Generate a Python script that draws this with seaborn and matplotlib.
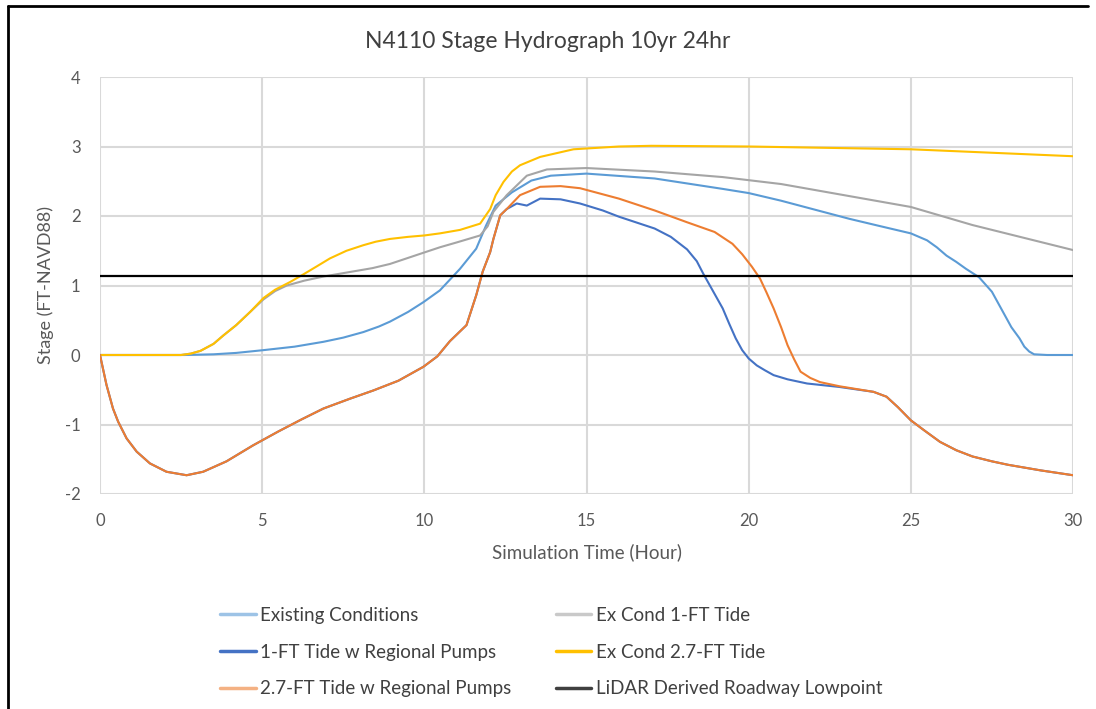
import numpy as np
import pandas as pd
import matplotlib
matplotlib.use("Agg")
import matplotlib.pyplot as plt
import seaborn as sns
from matplotlib.lines import Line2D

# ---- data ----
title = "N4110 Stage Hydrograph 10yr 24hr"
xlabel = "Simulation Time (Hour)"
ylabel = "Stage (FT-NAVD88)"

ec_t = [0, 2.6, 3.5, 4.2, 5.04, 6.0, 6.89, 7.5, 8.12, 8.6, 8.94, 9.5, 9.97, 10.48, 11.1, 11.6, 11.9, 12.2, 12.7, 13.3, 13.9, 15, 17.1, 19.2, 20, 21, 23.1, 24, 25, 25.5, 25.8, 26.1, 26.4, 26.7, 27.1, 27.5, 27.9, 28.1, 28.35, 28.5, 28.65, 28.8, 29.2, 30]
ec_v = [0, 0, 0.01, 0.03, 0.07, 0.12, 0.19, 0.25, 0.33, 0.41, 0.48, 0.62, 0.76, 0.93, 1.24, 1.53, 1.86, 2.15, 2.34, 2.51, 2.58, 2.61, 2.54, 2.39, 2.33, 2.22, 1.96, 1.86, 1.75, 1.65, 1.55, 1.43, 1.34, 1.24, 1.12, 0.91, 0.57, 0.4, 0.24, 0.12, 0.05, 0.01, 0, 0]

ex1_t = [0, 2.5, 2.8, 3.1, 3.5, 3.8, 4.2, 4.63, 5.04, 5.4, 5.76, 6.3, 6.9, 7.4, 8.4, 8.94, 9.9, 10.48, 11.0, 11.72, 11.95, 12.13, 12.54, 13.16, 13.78, 15, 17.1, 19.2, 21, 25, 26.9, 30]
ex1_v = [0, 0, 0.02, 0.06, 0.16, 0.28, 0.43, 0.62, 0.8, 0.92, 1.0, 1.07, 1.13, 1.17, 1.25, 1.31, 1.46, 1.55, 1.62, 1.72, 1.85, 2.06, 2.3, 2.58, 2.67, 2.69, 2.64, 2.56, 2.46, 2.13, 1.87, 1.51]

ex27_t = [0, 2.5, 2.8, 3.1, 3.5, 3.8, 4.2, 4.63, 5.04, 5.4, 5.86, 6.27, 6.7, 7.09, 7.6, 8.12, 8.5, 8.94, 9.5, 10.0, 10.48, 11.1, 11.72, 12.03, 12.2, 12.44, 12.7, 12.95, 13.57, 14.6, 16, 17, 20, 25, 30]
ex27_v = [0, 0, 0.02, 0.06, 0.16, 0.28, 0.43, 0.62, 0.82, 0.94, 1.05, 1.16, 1.28, 1.39, 1.5, 1.58, 1.63, 1.67, 1.7, 1.72, 1.75, 1.8, 1.89, 2.1, 2.3, 2.49, 2.64, 2.73, 2.85, 2.96, 3.0, 3.01, 3.0, 2.96, 2.86]

p1_t = [0, 0.2, 0.4, 0.56, 0.82, 1.13, 1.54, 2.05, 2.67, 3.18, 3.9, 4.72, 5.5, 6.2, 6.89, 7.7, 8.43, 9.2, 9.97, 10.4, 10.79, 11.3, 11.6, 11.8, 12.03, 12.13, 12.34, 12.54, 12.85, 13.16, 13.57, 14.2, 14.8, 15.5, 16, 17.1, 17.6, 18.1, 18.4, 18.6, 18.9, 19.2, 19.4, 19.6, 19.8, 20, 20.25, 20.5, 20.77, 21.2, 21.8, 22.8, 23.85, 24.25, 24.6, 25, 25.4, 25.9, 26.4, 26.9, 27.5, 28, 29, 30]
p1_v = [0, -0.43, -0.77, -0.96, -1.2, -1.39, -1.56, -1.68, -1.73, -1.68, -1.53, -1.3, -1.1, -0.93, -0.77, -0.63, -0.51, -0.37, -0.17, -0.02, 0.2, 0.43, 0.86, 1.2, 1.48, 1.67, 2.01, 2.1, 2.18, 2.15, 2.25, 2.24, 2.18, 2.08, 1.99, 1.82, 1.7, 1.52, 1.35, 1.17, 0.92, 0.67, 0.45, 0.24, 0.07, -0.05, -0.15, -0.22, -0.29, -0.35, -0.41, -0.46, -0.53, -0.6, -0.75, -0.94, -1.08, -1.25, -1.37, -1.46, -1.53, -1.58, -1.66, -1.73]

p27_t = [0, 0.2, 0.4, 0.56, 0.82, 1.13, 1.54, 2.05, 2.67, 3.18, 3.9, 4.72, 5.5, 6.2, 6.89, 7.7, 8.43, 9.2, 9.97, 10.4, 10.79, 11.3, 11.6, 11.8, 12.03, 12.13, 12.34, 12.54, 12.95, 13.57, 14.2, 14.8, 16, 17.1, 18.1, 18.95, 19.5, 19.8, 20.1, 20.35, 20.55, 20.77, 21.0, 21.2, 21.4, 21.6, 21.9, 22.2, 22.8, 23.85, 24.25, 24.6, 25, 25.4, 25.9, 26.4, 26.9, 27.5, 28, 29, 30]
p27_v = [0, -0.43, -0.77, -0.96, -1.2, -1.39, -1.56, -1.68, -1.73, -1.68, -1.53, -1.3, -1.1, -0.93, -0.77, -0.63, -0.51, -0.37, -0.17, -0.02, 0.2, 0.43, 0.86, 1.2, 1.48, 1.67, 2.01, 2.1, 2.3, 2.42, 2.43, 2.4, 2.25, 2.08, 1.91, 1.77, 1.6, 1.45, 1.27, 1.1, 0.9, 0.67, 0.4, 0.14, -0.06, -0.24, -0.33, -0.39, -0.45, -0.53, -0.6, -0.75, -0.94, -1.08, -1.25, -1.37, -1.46, -1.53, -1.58, -1.66, -1.73]

lidar_t = [0, 30]
lidar_v = [1.14, 1.14]

series_names = ["Existing Conditions", "Ex Cond 1-FT Tide", "1-FT Tide w Regional Pumps",
                "Ex Cond 2.7-FT Tide", "2.7-FT Tide w Regional Pumps", "LiDAR Derived Roadway Lowpoint"]
series_data = [(ec_t, ec_v), (ex1_t, ex1_v), (p1_t, p1_v), (ex27_t, ex27_v), (p27_t, p27_v), (lidar_t, lidar_v)]
colors = ["#5B9BD5", "#A5A5A5", "#4472C4", "#FFC000", "#ED7D31", "#000000"]

frames = []
for name, (t, v) in zip(series_names, series_data):
    frames.append(pd.DataFrame({"t": t, "v": v, "series": name}))
df = pd.concat(frames, ignore_index=True)

# ---- plot ----
sns.set_style("whitegrid")
plt.rcParams["font.family"] = ["Lato", "DejaVu Sans"]
plt.rcParams["axes.unicode_minus"] = False

fig = plt.figure(figsize=(10.96, 7.09), dpi=100)
ax = fig.add_axes([100/1096, 1-494/709, (1073-100)/1096, (494-77)/709])

draw_order = ["Existing Conditions", "Ex Cond 1-FT Tide", "Ex Cond 2.7-FT Tide",
              "1-FT Tide w Regional Pumps", "2.7-FT Tide w Regional Pumps", "LiDAR Derived Roadway Lowpoint"]
pal = dict(zip(series_names, colors))
for name in draw_order:
    sub = df[df["series"] == name]
    sns.lineplot(data=sub, x="t", y="v", color=pal[name], lw=1.5 if name != "LiDAR Derived Roadway Lowpoint" else 1.6,
                 ax=ax, legend=False, sort=False, estimator=None)

ax.set_xlim(0, 30)
ax.set_ylim(-2, 4)
ax.set_xticks(range(0, 31, 5))
ax.set_yticks(range(-2, 5, 1))
ax.grid(True, color="#D9D9D9", lw=1.5)
for s in ax.spines.values():
    s.set_visible(False)
ax.tick_params(axis="both", length=0, labelsize=12, colors="#595959")
ax.tick_params(axis="x", pad=14)
ax.tick_params(axis="y", pad=14)
ax.set_xlabel(xlabel, fontsize=13.5, color="#595959", labelpad=10)
ax.set_ylabel(ylabel, fontsize=13, color="#595959", labelpad=8)
fig.text(0.5, 1-42/709, title, ha="center", va="center", fontsize=16.5, color="#404040")

order = ["Existing Conditions", "1-FT Tide w Regional Pumps", "2.7-FT Tide w Regional Pumps",
         "Ex Cond 1-FT Tide", "Ex Cond 2.7-FT Tide", "LiDAR Derived Roadway Lowpoint"]
leg_colors = {"Existing Conditions": "#9DC3E6", "Ex Cond 1-FT Tide": "#C9C9C9",
              "1-FT Tide w Regional Pumps": "#4472C4", "Ex Cond 2.7-FT Tide": "#FFC000",
              "2.7-FT Tide w Regional Pumps": "#F4B183", "LiDAR Derived Roadway Lowpoint": "#404040"}
handles = [Line2D([], [], color=leg_colors[n], lw=2.5) for n in order]
leg = fig.legend(handles, order, ncol=2, loc="upper left", bbox_to_anchor=(203/1096, 1-590/709),
                 frameon=False, fontsize=13.5, handlelength=1.9, handletextpad=0.25,
                 columnspacing=2.35, labelspacing=1.05)
for t in leg.get_texts():
    t.set_color("#404040")

# chart border (left/top)
fig.add_artist(Line2D([8/1096, 8/1096], [0, 1-6/709], color="black", lw=2, transform=fig.transFigure))
fig.add_artist(Line2D([8/1096, 1088/1096], [1-6/709, 1-6/709], color="black", lw=2, transform=fig.transFigure))

fig.savefig("out.png", dpi=100, facecolor="white")
